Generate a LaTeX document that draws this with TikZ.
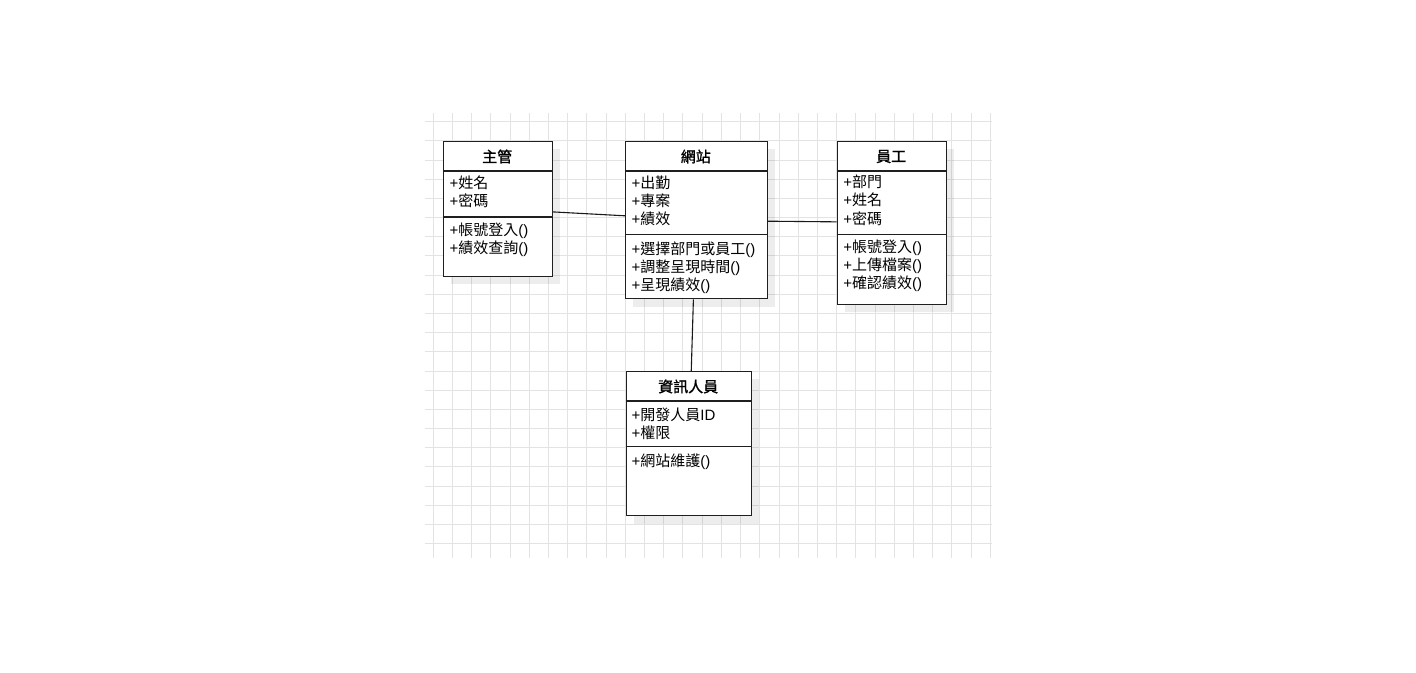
\documentclass[tikz,border=0pt]{standalone}
\usepackage{fontspec}
\setmainfont{Liberation Sans}
\newfontfamily\cjk{Noto Sans CJK TC}
\newfontfamily\cjkhead[FakeBold=1.2]{Noto Sans CJK TC}
\begin{document}
\begin{tikzpicture}[x=1pt,y=-1pt,
  gridline/.style={draw=black!11, line width=1pt},
  umlbox/.style={draw=black!88, line width=1.1pt, fill=white, inner sep=0pt, anchor=north west},
  shadowbox/.style={fill=black, opacity=0.07, inner sep=0pt, anchor=north west},
  divider/.style={draw=black!88, line width=1.1pt},
  conn/.style={draw=black!90, line width=1.1pt},
  head/.style={inner sep=0pt, font=\cjkhead\fontsize{15}{17}\selectfont},
  attr/.style={anchor=west, inner sep=0pt, text height=11.5pt, text depth=1.5pt, font=\fontsize{15}{17}\selectfont}]
\useasboundingbox (0,0) rectangle (1416,672);
\fill[white] (0,0) rectangle (1416,672);
% grid
\foreach \k in {0,...,29} \draw[gridline] ({433.3+19.207*\k},113) -- ({433.3+19.207*\k},558);
\foreach \k in {0,...,22} \draw[gridline] (425,{121.7+19.18*\k}) -- (991.7,{121.7+19.18*\k});
% shadows
\node[shadowbox, minimum width=109pt, minimum height=134.7pt] (zgs) at (450.7,149) {};
\node[shadowbox, minimum width=141.7pt, minimum height=157.3pt] (wzs) at (633,149) {};
\node[shadowbox, minimum width=109pt, minimum height=163pt] (ygs) at (844.7,149) {};
\node[shadowbox, minimum width=125pt, minimum height=144.3pt] (zxs) at (633.7,379) {};
% boxes
\node[umlbox, minimum width=109pt, minimum height=134.7pt] (zg) at (442.7,141) {};
\node[umlbox, minimum width=141.7pt, minimum height=157.3pt] (wz) at (625,141) {};
\node[umlbox, minimum width=109pt, minimum height=163pt] (yg) at (836.7,141) {};
\node[umlbox, minimum width=125pt, minimum height=144.3pt] (zx) at (625.7,371) {};
% dividers
\draw[divider] (zg.west |- 0,171) -- (zg.east |- 0,171);
\draw[divider] (zg.west |- 0,217) -- (zg.east |- 0,217);
\draw[divider] (wz.west |- 0,171) -- (wz.east |- 0,171);
\draw[divider] (wz.west |- 0,234.3) -- (wz.east |- 0,234.3);
\draw[divider] (yg.west |- 0,171) -- (yg.east |- 0,171);
\draw[divider] (yg.west |- 0,234.3) -- (yg.east |- 0,234.3);
\draw[divider] (zx.west |- 0,401) -- (zx.east |- 0,401);
\draw[divider] (zx.west |- 0,446.7) -- (zx.east |- 0,446.7);
% headers
\node[head] (zgh) at (497.2,156.5) {主管};
\node[head] (wzh) at (695.8,156.5) {網站};
\node[head] (ygh) at (891.2,156.5) {員工};
\node[head] (zxh) at (688.2,386.5) {資訊人員};
% 主管
\node[attr] (zga1) at (449.5,183.5) {+{\cjk 姓名}};
\node[attr] (zga2) at (449.5,201.5) {+{\cjk 密碼}};
\node[attr] (zgm1) at (449.5,230.5) {+{\cjk 帳號登入}()};
\node[attr] (zgm2) at (449.5,248.5) {+{\cjk 績效查詢}()};
% 網站
\node[attr] (wza1) at (631.5,183.5) {+{\cjk 出勤}};
\node[attr] (wza2) at (631.5,201.5) {+{\cjk 專案}};
\node[attr] (wza3) at (631.5,219.5) {+{\cjk 績效}};
\node[attr] (wzm1) at (631.5,249) {+{\cjk 選擇部門或員工}()};
\node[attr] (wzm2) at (631.5,267) {+{\cjk 調整呈現時間}()};
\node[attr] (wzm3) at (631.5,285) {+{\cjk 呈現績效}()};
% 員工
\node[attr] (yga1) at (843.2,182.5) {+{\cjk 部門}};
\node[attr] (yga2) at (843.2,200.5) {+{\cjk 姓名}};
\node[attr] (yga3) at (843.2,219) {+{\cjk 密碼}};
\node[attr] (ygm1) at (843.2,247.5) {+{\cjk 帳號登入}()};
\node[attr] (ygm2) at (843.2,265.5) {+{\cjk 上傳檔案}()};
\node[attr] (ygm3) at (843.2,283.5) {+{\cjk 確認績效}()};
% 資訊人員
\node[attr] (zxa1) at (631.5,415) {+{\cjk 開發人員}ID};
\node[attr] (zxa2) at (631.5,433.3) {+{\cjk 權限}};
\node[attr] (zxm1) at (631.5,461.7) {+{\cjk 網站維護}()};
% connectors
\draw[conn] ([yshift=-3pt]zg.east) -- ([yshift=4.4pt]wz.west);
\draw[conn] ([yshift=-1pt]wz.east) -- ([yshift=1.2pt]yg.west);
\draw[conn] ([xshift=-3pt]wz.south) -- ([xshift=2.5pt]zx.north);
\end{tikzpicture}
\end{document}
